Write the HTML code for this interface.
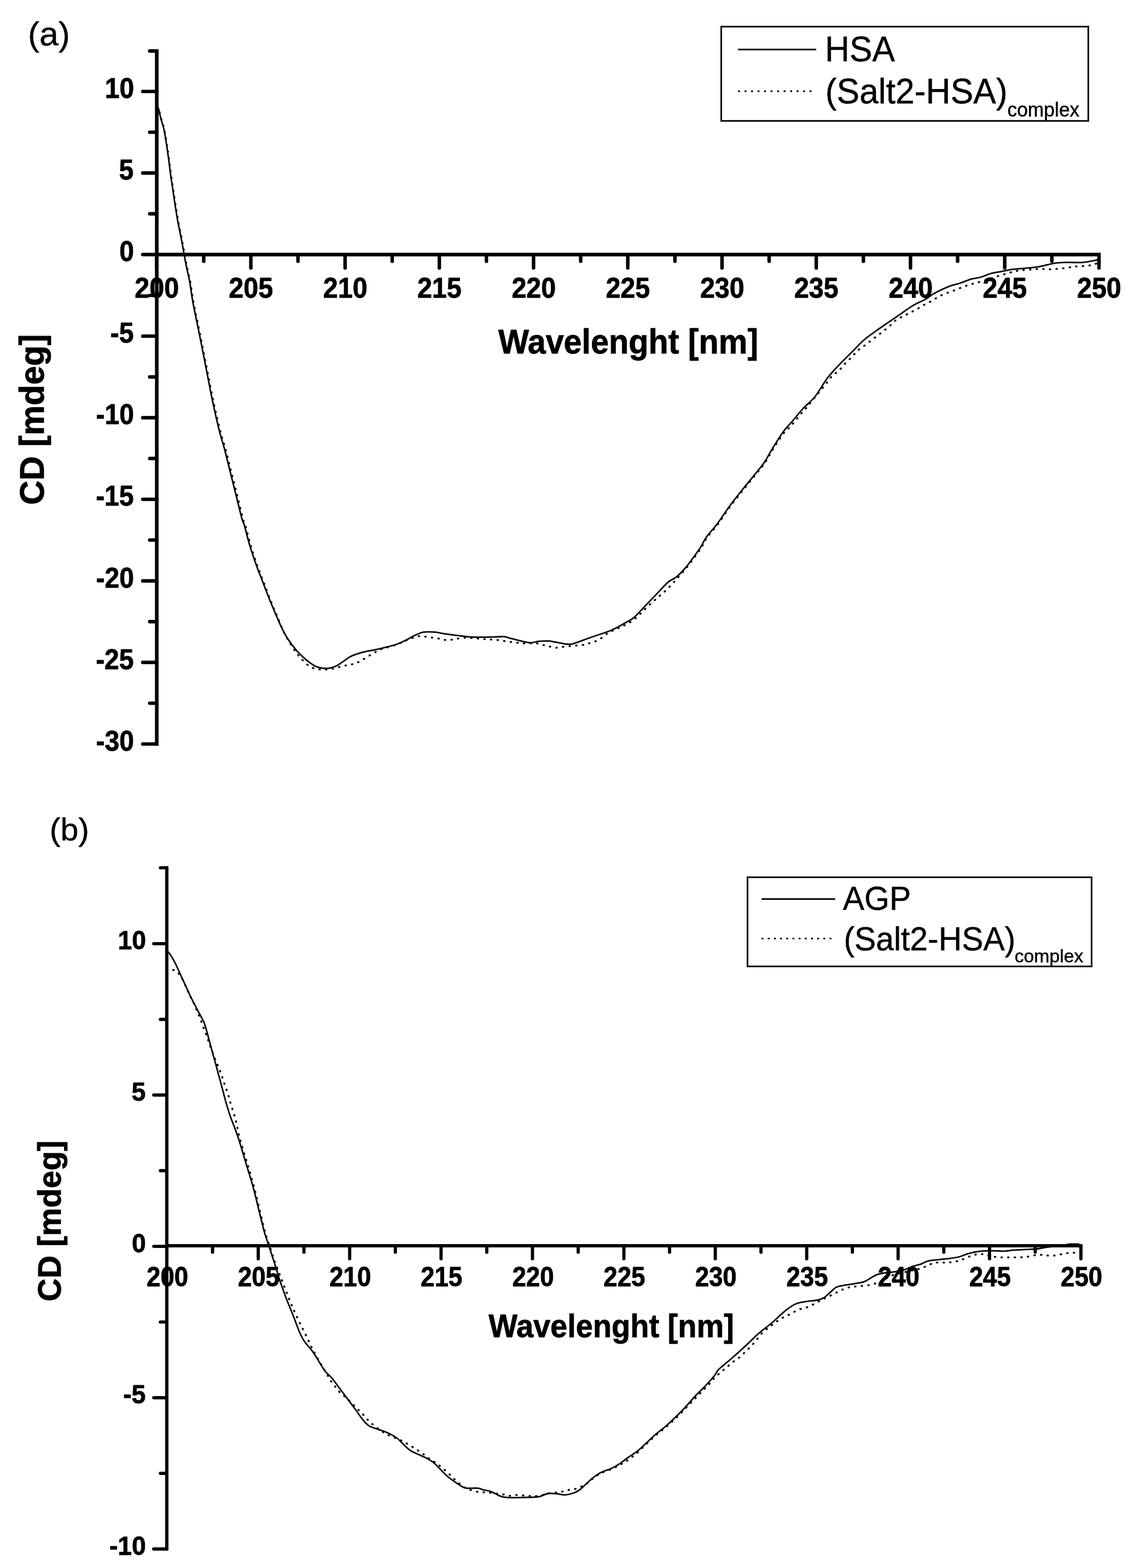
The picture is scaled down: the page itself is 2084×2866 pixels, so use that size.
<!DOCTYPE html>
<html lang="en">
<head>
<meta charset="utf-8">
<title>CD spectra</title>
<style>
html,body{margin:0;padding:0;background:#fff;}
body{width:2084px;height:2866px;overflow:hidden;}
svg{display:block;font-family:"Liberation Sans",sans-serif;}
</style>
</head>
<body>
<svg width="2084" height="2866" viewBox="0 0 2084 2866">
<rect width="2084" height="2866" fill="#fff"/>
<!-- panel a -->
<g fill="#000" stroke="#000">
<g stroke="none"><rect x="283.3" y="90" width="6.6" height="1273.2"/><rect x="283.3" y="461.9" width="1728.9" height="6.7"/></g>
<line x1="273.7" y1="93.3" x2="284.3" y2="93.3" stroke-width="6.4" stroke-linecap="round"/>
<line x1="261" y1="167.1" x2="284.3" y2="167.1" stroke-width="6.4" stroke-linecap="round"/>
<line x1="273.7" y1="241.65" x2="284.3" y2="241.65" stroke-width="6.4" stroke-linecap="round"/>
<line x1="261" y1="316.2" x2="284.3" y2="316.2" stroke-width="6.4" stroke-linecap="round"/>
<line x1="273.7" y1="390.75" x2="284.3" y2="390.75" stroke-width="6.4" stroke-linecap="round"/>
<line x1="261" y1="465.3" x2="284.3" y2="465.3" stroke-width="6.4" stroke-linecap="round"/>
<line x1="273.7" y1="539.85" x2="284.3" y2="539.85" stroke-width="6.4" stroke-linecap="round"/>
<line x1="261" y1="614.4" x2="284.3" y2="614.4" stroke-width="6.4" stroke-linecap="round"/>
<line x1="273.7" y1="688.95" x2="284.3" y2="688.95" stroke-width="6.4" stroke-linecap="round"/>
<line x1="261" y1="763.5" x2="284.3" y2="763.5" stroke-width="6.4" stroke-linecap="round"/>
<line x1="273.7" y1="838.05" x2="284.3" y2="838.05" stroke-width="6.4" stroke-linecap="round"/>
<line x1="261" y1="912.6" x2="284.3" y2="912.6" stroke-width="6.4" stroke-linecap="round"/>
<line x1="273.7" y1="987.15" x2="284.3" y2="987.15" stroke-width="6.4" stroke-linecap="round"/>
<line x1="261" y1="1061.7" x2="284.3" y2="1061.7" stroke-width="6.4" stroke-linecap="round"/>
<line x1="273.7" y1="1136.25" x2="284.3" y2="1136.25" stroke-width="6.4" stroke-linecap="round"/>
<line x1="261" y1="1210.8" x2="284.3" y2="1210.8" stroke-width="6.4" stroke-linecap="round"/>
<line x1="273.7" y1="1285.35" x2="284.3" y2="1285.35" stroke-width="6.4" stroke-linecap="round"/>
<line x1="261" y1="1359.9" x2="284.3" y2="1359.9" stroke-width="6.4" stroke-linecap="round"/>
<line x1="286.3" y1="467.6" x2="286.3" y2="489.7" stroke-width="6.4" stroke-linecap="round"/>
<line x1="372.44" y1="467.6" x2="372.44" y2="477.6" stroke-width="6.4" stroke-linecap="round"/>
<line x1="458.57" y1="467.6" x2="458.57" y2="489.7" stroke-width="6.4" stroke-linecap="round"/>
<line x1="544.71" y1="467.6" x2="544.71" y2="477.6" stroke-width="6.4" stroke-linecap="round"/>
<line x1="630.84" y1="467.6" x2="630.84" y2="489.7" stroke-width="6.4" stroke-linecap="round"/>
<line x1="716.98" y1="467.6" x2="716.98" y2="477.6" stroke-width="6.4" stroke-linecap="round"/>
<line x1="803.11" y1="467.6" x2="803.11" y2="489.7" stroke-width="6.4" stroke-linecap="round"/>
<line x1="889.25" y1="467.6" x2="889.25" y2="477.6" stroke-width="6.4" stroke-linecap="round"/>
<line x1="975.38" y1="467.6" x2="975.38" y2="489.7" stroke-width="6.4" stroke-linecap="round"/>
<line x1="1061.52" y1="467.6" x2="1061.52" y2="477.6" stroke-width="6.4" stroke-linecap="round"/>
<line x1="1147.65" y1="467.6" x2="1147.65" y2="489.7" stroke-width="6.4" stroke-linecap="round"/>
<line x1="1233.79" y1="467.6" x2="1233.79" y2="477.6" stroke-width="6.4" stroke-linecap="round"/>
<line x1="1319.92" y1="467.6" x2="1319.92" y2="489.7" stroke-width="6.4" stroke-linecap="round"/>
<line x1="1406.06" y1="467.6" x2="1406.06" y2="477.6" stroke-width="6.4" stroke-linecap="round"/>
<line x1="1492.19" y1="467.6" x2="1492.19" y2="489.7" stroke-width="6.4" stroke-linecap="round"/>
<line x1="1578.33" y1="467.6" x2="1578.33" y2="477.6" stroke-width="6.4" stroke-linecap="round"/>
<line x1="1664.46" y1="467.6" x2="1664.46" y2="489.7" stroke-width="6.4" stroke-linecap="round"/>
<line x1="1750.6" y1="467.6" x2="1750.6" y2="477.6" stroke-width="6.4" stroke-linecap="round"/>
<line x1="1836.73" y1="467.6" x2="1836.73" y2="489.7" stroke-width="6.4" stroke-linecap="round"/>
<line x1="1922.87" y1="467.6" x2="1922.87" y2="477.6" stroke-width="6.4" stroke-linecap="round"/>
<line x1="2009" y1="467.6" x2="2009" y2="489.7" stroke-width="6.4" stroke-linecap="round"/>
</g>
<g fill="#000" stroke="#000" stroke-linejoin="round">
<text transform="matrix(0.9311 0 0 1 191.69 178.93)" font-size="51.55" font-weight="bold" stroke-width="0.9">10</text>
<text transform="matrix(0.9311 0 0 1 217.61 328.03)" font-size="51.55" font-weight="bold" stroke-width="0.9">5</text>
<text transform="matrix(0.9311 0 0 1 218.33 477.13)" font-size="51.55" font-weight="bold" stroke-width="0.9">0</text>
<text transform="matrix(0.9311 0 0 1 201.77 626.23)" font-size="51.55" font-weight="bold" stroke-width="0.9">-5</text>
<text transform="matrix(0.9311 0 0 1 175.61 775.33)" font-size="51.55" font-weight="bold" stroke-width="0.9">-10</text>
<text transform="matrix(0.9311 0 0 1 175.13 924.43)" font-size="51.55" font-weight="bold" stroke-width="0.9">-15</text>
<text transform="matrix(0.9311 0 0 1 175.61 1073.53)" font-size="51.55" font-weight="bold" stroke-width="0.9">-20</text>
<text transform="matrix(0.9311 0 0 1 175.13 1222.63)" font-size="51.55" font-weight="bold" stroke-width="0.9">-25</text>
<text transform="matrix(0.9311 0 0 1 175.61 1371.73)" font-size="51.55" font-weight="bold" stroke-width="0.9">-30</text>
<text transform="matrix(0.9493 0 0 1 246.31 543.64)" font-size="50.99" font-weight="bold" stroke-width="0.9">200</text>
<text transform="matrix(0.9493 0 0 1 418.34 543.64)" font-size="50.99" font-weight="bold" stroke-width="0.9">205</text>
<text transform="matrix(0.9493 0 0 1 590.85 543.64)" font-size="50.99" font-weight="bold" stroke-width="0.9">210</text>
<text transform="matrix(0.9493 0 0 1 762.88 543.64)" font-size="50.99" font-weight="bold" stroke-width="0.9">215</text>
<text transform="matrix(0.9493 0 0 1 935.39 543.64)" font-size="50.99" font-weight="bold" stroke-width="0.9">220</text>
<text transform="matrix(0.9493 0 0 1 1107.41 543.64)" font-size="50.99" font-weight="bold" stroke-width="0.9">225</text>
<text transform="matrix(0.9493 0 0 1 1279.93 543.64)" font-size="50.99" font-weight="bold" stroke-width="0.9">230</text>
<text transform="matrix(0.9493 0 0 1 1451.95 543.64)" font-size="50.99" font-weight="bold" stroke-width="0.9">235</text>
<text transform="matrix(0.9493 0 0 1 1624.47 543.64)" font-size="50.99" font-weight="bold" stroke-width="0.9">240</text>
<text transform="matrix(0.9493 0 0 1 1796.49 543.64)" font-size="50.99" font-weight="bold" stroke-width="0.9">245</text>
<text transform="matrix(0.9493 0 0 1 1969.01 543.64)" font-size="50.99" font-weight="bold" stroke-width="0.9">250</text>
<text transform="matrix(0.9410 0 0 1 910.95 645.6)" font-size="63" font-weight="bold" stroke-width="0.9">Wavelenght [nm]</text>
<text transform="matrix(0 -0.98 1 0 80.2 922.73)" font-size="63" font-weight="bold" stroke-width="0.9">CD [mdeg]</text>
<text transform="matrix(1.0268 0 0 1 51.08 83.4)" font-size="61.18" stroke-width="0.5">(a)</text>
</g>
<rect x="1318.5" y="48.7" width="671" height="172.3" fill="#fff" stroke="#000" stroke-width="3"/>
<g stroke="#000"><line x1="1349.2" y1="90.5" x2="1492.1" y2="90.5" stroke-width="3" stroke-linecap="butt"/><line x1="1349.2" y1="166.8" x2="1486" y2="166.8" stroke-width="3" stroke-dasharray="3.5 8.4"/></g>
<g fill="#000" stroke="#000" stroke-linejoin="round">
<text transform="matrix(0.9497 0 0 1 1507.96 112.49)" font-size="65.63" stroke-width="0.5">HSA</text>
<text transform="matrix(0.9756 0 0 1 1508.7 188.8)" font-size="64" stroke-width="0.5">(Salt2-HSA)</text>
<text transform="matrix(0.9703 0 0 1 1841.46 212.8)" font-size="36.5" stroke-width="0.5">complex</text>
</g>
<path d="M286.8 195C287.38 195.75 289.13 196.3 290.3 199.5C291.47 202.7 292.18 208.15 293.8 214.2C295.42 220.25 298.3 228.6 300 235.8C301.7 243 302.57 248.65 304 257.4C305.43 266.15 307.17 278.02 308.6 288.3C310.03 298.58 311.17 308.82 312.6 319.1C314.03 329.38 315.65 339.7 317.2 350C318.75 360.3 320.33 371.12 321.9 380.9C323.47 390.68 325.18 400.98 326.6 408.7C328.02 416.42 329.12 420.78 330.4 427.2C331.68 433.62 333.2 441.28 334.3 447.2C335.4 453.12 335.98 457.03 337 462.7C338.02 468.37 339.17 475.03 340.4 481.2C341.63 487.37 343.07 493.53 344.4 499.7C345.73 505.87 346.77 508.98 348.4 518.2C350.03 527.42 351.23 539.15 354.2 555C357.17 570.85 362.2 593.5 366.2 613.3C370.2 633.1 374.2 653.63 378.2 673.8C382.2 693.97 386.02 714.85 390.2 734.3C394.38 753.75 399.63 776.08 403.3 790.5C406.97 804.92 408.9 808.55 412.2 820.8C415.5 833.05 419.47 849.6 423.1 864C426.73 878.4 430.38 892.8 434 907.2C437.62 921.6 442.33 941.43 444.8 950.4C447.27 959.37 446.53 953.17 448.8 961C451.07 968.83 454.82 985.27 458.4 997.4C461.98 1009.53 466.3 1022.48 470.3 1033.8C474.3 1045.12 478.38 1054.8 482.4 1065.3C486.42 1075.8 490.4 1086.7 494.4 1096.8C498.4 1106.9 502.47 1116.45 506.4 1125.9C510.33 1135.35 514.48 1145.98 518 1153.5C521.52 1161.02 523.67 1164.58 527.5 1171C531.33 1177.42 536.68 1186.02 541 1192C545.32 1197.98 549.32 1202.63 553.4 1206.9C557.48 1211.17 561.45 1215 565.5 1217.6C569.55 1220.2 573.65 1221.48 577.7 1222.5C581.75 1223.52 585.77 1223.58 589.8 1223.7C593.83 1223.82 597.85 1223.68 601.9 1223.2C605.95 1222.72 610.05 1221.73 614.1 1220.8C618.15 1219.87 622.17 1218.53 626.2 1217.6C630.23 1216.67 634.47 1216 638.3 1215.2C642.13 1214.4 645.57 1214.1 649.2 1212.8C652.83 1211.5 656.25 1209.52 660.1 1207.4C663.95 1205.28 668.25 1202.52 672.3 1200.1C676.35 1197.68 680.37 1195.12 684.4 1192.9C688.43 1190.68 690.03 1189.15 696.5 1186.8C702.97 1184.45 715.52 1181.5 723.2 1178.8C730.88 1176.1 737.35 1172.78 742.6 1170.6C747.85 1168.42 750.65 1167 754.7 1165.7C758.75 1164.4 762.85 1163.12 766.9 1162.8C770.95 1162.48 774.97 1163.35 779 1163.8C783.03 1164.25 787.05 1164.9 791.1 1165.5C795.15 1166.1 799.38 1166.68 803.3 1167.4C807.22 1168.12 810.7 1169.52 814.6 1169.8C818.5 1170.08 822.67 1169.58 826.7 1169.1C830.73 1168.62 834.77 1167.47 838.8 1166.9C842.83 1166.33 846.85 1165.82 850.9 1165.7C854.95 1165.58 857.43 1165.8 863.1 1166.2C868.77 1166.6 877.22 1167.5 884.9 1168.1C892.58 1168.7 901.12 1168.92 909.2 1169.8C917.28 1170.68 925.32 1172.38 933.4 1173.4C941.48 1174.42 949.82 1175.48 957.7 1175.9C965.58 1176.32 974.85 1175.38 980.7 1175.9C986.55 1176.42 988.95 1178.08 992.8 1179C996.65 1179.92 999.95 1180.58 1003.8 1181.4C1007.65 1182.22 1011.87 1183.73 1015.9 1183.9C1019.93 1184.07 1023.97 1182.85 1028 1182.4C1032.03 1181.95 1036.05 1181.6 1040.1 1181.2C1044.15 1180.8 1048.25 1180.37 1052.3 1180C1056.35 1179.63 1060.57 1179.62 1064.4 1179C1068.23 1178.38 1071.47 1177.35 1075.3 1176.3C1079.13 1175.25 1083.35 1174.38 1087.4 1172.7C1091.45 1171.02 1095.75 1168.7 1099.6 1166.2C1103.45 1163.7 1106.67 1160.13 1110.5 1157.7C1114.33 1155.27 1118.57 1153.5 1122.6 1151.6C1126.63 1149.7 1130.65 1148.2 1134.7 1146.3C1138.75 1144.4 1142.85 1142.55 1146.9 1140.2C1150.95 1137.85 1155.17 1135.15 1159 1132.2C1162.83 1129.25 1166.07 1126.13 1169.9 1122.5C1173.73 1118.87 1177.75 1114.45 1182 1110.4C1186.25 1106.35 1191.4 1101.77 1195.4 1098.2C1199.4 1094.63 1202.28 1092.23 1206 1089C1209.72 1085.77 1213.75 1082.57 1217.7 1078.8C1221.65 1075.03 1226.12 1070.23 1229.7 1066.4C1233.28 1062.57 1235.23 1060.28 1239.2 1055.8C1243.17 1051.32 1248.78 1045.23 1253.5 1039.5C1258.22 1033.77 1262.85 1027.68 1267.5 1021.4C1272.15 1015.12 1277.22 1008.32 1281.4 1001.8C1285.58 995.28 1287.48 989.5 1292.6 982.3C1297.72 975.1 1305.13 967.9 1312.1 958.6C1319.07 949.3 1326.5 937.2 1334.4 926.5C1342.3 915.8 1351.13 904.87 1359.5 894.4C1367.87 883.93 1378.08 871.83 1384.6 863.7C1391.12 855.57 1393.95 852.57 1398.6 845.6C1403.25 838.63 1406.85 830.83 1412.5 821.9C1418.15 812.97 1427.33 798.82 1432.5 792C1437.67 785.18 1440.15 784.57 1443.5 781C1446.85 777.43 1449.37 774.43 1452.6 770.6C1455.83 766.77 1459.52 761.95 1462.9 758C1466.28 754.05 1469.52 750.85 1472.9 746.9C1476.28 742.95 1476.68 742.3 1483.2 734.3C1489.72 726.3 1505.62 706.8 1512 698.9C1518.38 691 1517.78 690.62 1521.5 686.9C1525.22 683.18 1530.32 680.42 1534.3 676.6C1538.28 672.78 1541.58 668 1545.4 664C1549.22 660 1553.47 656.47 1557.2 652.6C1560.93 648.73 1564 644.25 1567.8 640.8C1571.6 637.35 1575.97 634.92 1580 631.9C1584.03 628.88 1588 625.77 1592 622.7C1596 619.63 1600.05 616.52 1604 613.5C1607.95 610.48 1611.78 607.72 1615.7 604.6C1619.62 601.48 1623.68 598.15 1627.5 594.8C1631.32 591.45 1634.65 587.28 1638.6 584.5C1642.55 581.72 1647.1 580.23 1651.2 578.1C1655.3 575.97 1659.12 573.8 1663.2 571.7C1667.28 569.6 1671.62 567.78 1675.7 565.5C1679.78 563.22 1683.75 560.23 1687.7 558C1691.65 555.77 1695.58 554.2 1699.4 552.1C1703.22 550 1706.78 547.58 1710.6 545.4C1714.42 543.22 1718.35 540.85 1722.3 539C1726.25 537.15 1730.2 535.83 1734.3 534.3C1738.4 532.77 1742.85 531.33 1746.9 529.8C1750.95 528.27 1754.65 526.58 1758.6 525.1C1762.55 523.62 1766.6 522.17 1770.6 520.9C1774.6 519.63 1778.65 518.58 1782.6 517.5C1786.55 516.42 1786.48 516.8 1794.3 514.4C1802.12 512 1821.6 505.58 1829.5 503.1C1837.4 500.62 1837.65 500.63 1841.7 499.5C1845.75 498.37 1849.97 497.2 1853.8 496.3C1857.63 495.4 1860.87 494.58 1864.7 494.1C1868.53 493.62 1872.75 493.72 1876.8 493.4C1880.85 493.08 1885.15 492.48 1889 492.2C1892.85 491.92 1896.07 491.78 1899.9 491.7C1903.73 491.62 1907.97 491.62 1912 491.7C1916.03 491.78 1920.05 492.32 1924.1 492.2C1928.15 492.08 1932.25 491.4 1936.3 491C1940.35 490.6 1944.37 490.33 1948.4 489.8C1952.43 489.27 1956.67 488.3 1960.5 487.8C1964.33 487.3 1967.55 487.08 1971.4 486.8C1975.25 486.52 1979.55 486.5 1983.6 486.1C1987.65 485.7 1992.07 485.2 1995.7 484.4C1999.33 483.6 2003.78 481.82 2005.4 481.3" fill="none" stroke="#000" stroke-width="3.5" stroke-linejoin="round" stroke-linecap="round" stroke-dasharray="1 11.1"/>
<path d="M286.8 194.5C287.3 195.17 288.75 195.38 289.8 198.5C290.85 201.62 291.52 207.15 293.1 213.2C294.68 219.25 297.62 227.6 299.3 234.8C300.98 242 301.78 247.65 303.2 256.4C304.62 265.15 306.38 277.02 307.8 287.3C309.22 297.58 310.28 307.82 311.7 318.1C313.12 328.38 314.77 338.7 316.3 349C317.83 359.3 319.35 370.12 320.9 379.9C322.45 389.68 324.18 399.98 325.6 407.7C327.02 415.42 328.12 419.78 329.4 426.2C330.68 432.62 332.2 440.28 333.3 446.2C334.4 452.12 334.98 456.03 336 461.7C337.02 467.37 338.18 474.03 339.4 480.2C340.62 486.37 342 492.53 343.3 498.7C344.6 504.87 345.6 507.98 347.2 517.2C348.8 526.42 349.97 538.15 352.9 554C355.83 569.85 360.83 592.5 364.8 612.3C368.77 632.1 372.73 652.63 376.7 672.8C380.67 692.97 384.47 713.85 388.6 733.3C392.73 752.75 397.9 775.08 401.5 789.5C405.1 803.92 406.95 807.55 410.2 819.8C413.45 832.05 417.4 848.6 421 863C424.6 877.4 428.2 891.8 431.8 906.2C435.4 920.6 440.12 940.43 442.6 949.4C445.08 958.37 444.4 952.17 446.7 960C449 967.83 452.77 984.27 456.4 996.4C460.03 1008.53 464.47 1021.48 468.5 1032.8C472.53 1044.12 476.55 1053.8 480.6 1064.3C484.65 1074.8 488.75 1085.7 492.8 1095.8C496.85 1105.9 500.87 1115.6 504.9 1124.9C508.93 1134.2 513.37 1144.32 517 1151.6C520.63 1158.88 522.65 1162.53 526.7 1168.6C530.75 1174.67 536.45 1182.33 541.3 1188C546.15 1193.67 551.35 1198.55 555.8 1202.6C560.25 1206.65 564.35 1209.68 568 1212.3C571.65 1214.92 574.07 1216.8 577.7 1218.3C581.33 1219.8 585.77 1220.8 589.8 1221.3C593.83 1221.8 597.85 1221.92 601.9 1221.3C605.95 1220.68 610.05 1219.5 614.1 1217.6C618.15 1215.7 621.77 1212.82 626.2 1209.9C630.63 1206.98 636.25 1202.53 640.7 1200.1C645.15 1197.67 648.85 1196.7 652.9 1195.3C656.95 1193.9 659.35 1193.03 665 1191.7C670.65 1190.37 679.93 1188.8 686.8 1187.3C693.67 1185.8 700.13 1184.2 706.2 1182.7C712.27 1181.2 717.53 1180.25 723.2 1178.3C728.87 1176.35 734.13 1173.92 740.2 1171C746.27 1168.08 753.93 1163.42 759.6 1160.8C765.27 1158.18 768.13 1156.22 774.2 1155.3C780.27 1154.38 790.35 1154.9 796 1155.3C801.65 1155.7 802.58 1156.82 808.1 1157.7C813.62 1158.58 819.93 1159.47 829.1 1160.6C838.27 1161.73 850.57 1163.9 863.1 1164.5C875.63 1165.1 894.6 1164.33 904.3 1164.2C914 1164.07 916.05 1163.17 921.3 1163.7C926.55 1164.23 928.12 1165.57 935.8 1167.4C943.48 1169.23 959.3 1173.9 967.4 1174.7C975.5 1175.5 978.33 1172.7 984.4 1172.2C990.47 1171.7 998.15 1171.37 1003.8 1171.7C1009.45 1172.03 1012.25 1173.22 1018.3 1174.2C1024.35 1175.18 1034.43 1177.45 1040.1 1177.6C1045.77 1177.75 1045.42 1177.28 1052.3 1175.1C1059.18 1172.92 1071.7 1167.88 1081.4 1164.5C1091.1 1161.12 1103.23 1157.47 1110.5 1154.8C1117.77 1152.13 1118.93 1151.58 1125 1148.5C1131.07 1145.42 1141.23 1139.62 1146.9 1136.3C1152.57 1132.98 1153.75 1133.2 1159 1128.6C1164.25 1124 1171.57 1115.78 1178.4 1108.7C1185.23 1101.62 1192.77 1093.62 1200 1086.1C1207.23 1078.58 1215.83 1068.75 1221.8 1063.6C1227.77 1058.45 1230.68 1059.38 1235.8 1055.2C1240.92 1051.02 1247.38 1044.3 1252.5 1038.5C1257.62 1032.7 1261.85 1026.68 1266.5 1020.4C1271.15 1014.12 1276.22 1007.32 1280.4 1000.8C1284.58 994.28 1286.48 988.5 1291.6 981.3C1296.72 974.1 1304.13 966.9 1311.1 957.6C1318.07 948.3 1325.5 936.2 1333.4 925.5C1341.3 914.8 1350.13 903.87 1358.5 893.4C1366.87 882.93 1377.08 870.83 1383.6 862.7C1390.12 854.57 1392.95 851.57 1397.6 844.6C1402.25 837.63 1405.92 829.97 1411.5 820.9C1417.08 811.83 1425.05 798.57 1431.1 790.2C1437.15 781.83 1441.67 777.92 1447.8 770.7C1453.93 763.48 1460.83 754.6 1467.9 746.9C1474.97 739.2 1482.77 733.8 1490.2 724.5C1497.63 715.2 1505.07 700.85 1512.5 691.1C1519.93 681.35 1527.35 673.92 1534.8 666C1542.25 658.08 1549.75 651.05 1557.2 643.6C1564.65 636.15 1572.07 627.8 1579.5 621.3C1586.93 614.8 1594.37 609.95 1601.8 604.6C1609.23 599.25 1616.67 594.32 1624.1 589.2C1631.53 584.08 1638.97 579 1646.4 573.9C1653.83 568.8 1661.25 563.02 1668.7 558.6C1676.15 554.18 1684.58 551.13 1691.1 547.4C1697.62 543.67 1700.37 540.25 1707.8 536.2C1715.23 532.15 1727.8 526.22 1735.7 523.1C1743.6 519.98 1748.7 519.63 1755.2 517.5C1761.7 515.37 1768.65 512.05 1774.7 510.3C1780.75 508.55 1785.45 508.72 1791.5 507C1797.55 505.28 1804.5 501.78 1811 500C1817.5 498.22 1823.98 497.57 1830.5 496.3C1837.02 495.03 1842.65 493.42 1850.1 492.4C1857.55 491.38 1866.88 491.03 1875.2 490.2C1883.52 489.37 1891.43 488.88 1900 487.4C1908.57 485.92 1918.13 482.6 1926.6 481.3C1935.07 480 1941.92 479.88 1950.8 479.6C1959.68 479.32 1970.28 480.45 1979.9 479.6C1989.52 478.75 2003.73 475.35 2008.5 474.5" fill="none" stroke="#000" stroke-width="2.8" stroke-linejoin="round" stroke-linecap="butt"/>
<!-- panel b -->
<g fill="#000" stroke="#000">
<g stroke="none"><rect x="301.9" y="1583.1" width="6" height="1251.2"/><rect x="301.9" y="2274" width="1677.05" height="6"/></g>
<line x1="293.25" y1="1586.1" x2="302.9" y2="1586.1" stroke-width="5.9" stroke-linecap="round"/>
<line x1="281.05" y1="1724.9" x2="302.9" y2="1724.9" stroke-width="5.9" stroke-linecap="round"/>
<line x1="293.25" y1="1863.2" x2="302.9" y2="1863.2" stroke-width="5.9" stroke-linecap="round"/>
<line x1="281.05" y1="2001.5" x2="302.9" y2="2001.5" stroke-width="5.9" stroke-linecap="round"/>
<line x1="293.25" y1="2139.8" x2="302.9" y2="2139.8" stroke-width="5.9" stroke-linecap="round"/>
<line x1="281.05" y1="2278.1" x2="302.9" y2="2278.1" stroke-width="5.9" stroke-linecap="round"/>
<line x1="293.25" y1="2416.4" x2="302.9" y2="2416.4" stroke-width="5.9" stroke-linecap="round"/>
<line x1="281.05" y1="2554.7" x2="302.9" y2="2554.7" stroke-width="5.9" stroke-linecap="round"/>
<line x1="293.25" y1="2693" x2="302.9" y2="2693" stroke-width="5.9" stroke-linecap="round"/>
<line x1="281.05" y1="2831.3" x2="302.9" y2="2831.3" stroke-width="5.9" stroke-linecap="round"/>
<line x1="305" y1="2279" x2="305" y2="2300.85" stroke-width="5.9" stroke-linecap="round"/>
<line x1="388.55" y1="2279" x2="388.55" y2="2288.75" stroke-width="5.9" stroke-linecap="round"/>
<line x1="472.1" y1="2279" x2="472.1" y2="2300.85" stroke-width="5.9" stroke-linecap="round"/>
<line x1="555.65" y1="2279" x2="555.65" y2="2288.75" stroke-width="5.9" stroke-linecap="round"/>
<line x1="639.2" y1="2279" x2="639.2" y2="2300.85" stroke-width="5.9" stroke-linecap="round"/>
<line x1="722.75" y1="2279" x2="722.75" y2="2288.75" stroke-width="5.9" stroke-linecap="round"/>
<line x1="806.3" y1="2279" x2="806.3" y2="2300.85" stroke-width="5.9" stroke-linecap="round"/>
<line x1="889.85" y1="2279" x2="889.85" y2="2288.75" stroke-width="5.9" stroke-linecap="round"/>
<line x1="973.4" y1="2279" x2="973.4" y2="2300.85" stroke-width="5.9" stroke-linecap="round"/>
<line x1="1056.95" y1="2279" x2="1056.95" y2="2288.75" stroke-width="5.9" stroke-linecap="round"/>
<line x1="1140.5" y1="2279" x2="1140.5" y2="2300.85" stroke-width="5.9" stroke-linecap="round"/>
<line x1="1224.05" y1="2279" x2="1224.05" y2="2288.75" stroke-width="5.9" stroke-linecap="round"/>
<line x1="1307.6" y1="2279" x2="1307.6" y2="2300.85" stroke-width="5.9" stroke-linecap="round"/>
<line x1="1391.15" y1="2279" x2="1391.15" y2="2288.75" stroke-width="5.9" stroke-linecap="round"/>
<line x1="1474.7" y1="2279" x2="1474.7" y2="2300.85" stroke-width="5.9" stroke-linecap="round"/>
<line x1="1558.25" y1="2279" x2="1558.25" y2="2288.75" stroke-width="5.9" stroke-linecap="round"/>
<line x1="1641.8" y1="2279" x2="1641.8" y2="2300.85" stroke-width="5.9" stroke-linecap="round"/>
<line x1="1725.35" y1="2279" x2="1725.35" y2="2288.75" stroke-width="5.9" stroke-linecap="round"/>
<line x1="1808.9" y1="2279" x2="1808.9" y2="2300.85" stroke-width="5.9" stroke-linecap="round"/>
<line x1="1892.45" y1="2279" x2="1892.45" y2="2288.75" stroke-width="5.9" stroke-linecap="round"/>
<line x1="1976" y1="2279" x2="1976" y2="2300.85" stroke-width="5.9" stroke-linecap="round"/>
</g>
<g fill="#000" stroke="#000" stroke-linejoin="round">
<text transform="matrix(0.9640 0 0 1 215.41 1735.47)" font-size="48.03" font-weight="bold" stroke-width="0.9">10</text>
<text transform="matrix(0.9640 0 0 1 240.41 2012.07)" font-size="48.03" font-weight="bold" stroke-width="0.9">5</text>
<text transform="matrix(0.9640 0 0 1 241.11 2288.67)" font-size="48.03" font-weight="bold" stroke-width="0.9">0</text>
<text transform="matrix(0.9640 0 0 1 225.13 2565.27)" font-size="48.03" font-weight="bold" stroke-width="0.9">-5</text>
<text transform="matrix(0.9640 0 0 1 199.9 2841.87)" font-size="48.03" font-weight="bold" stroke-width="0.9">-10</text>
<text transform="matrix(0.9172 0 0 1 268.04 2350.85)" font-size="49.72" font-weight="bold" stroke-width="0.9">200</text>
<text transform="matrix(0.9172 0 0 1 434.91 2350.85)" font-size="49.72" font-weight="bold" stroke-width="0.9">205</text>
<text transform="matrix(0.9172 0 0 1 602.24 2350.85)" font-size="49.72" font-weight="bold" stroke-width="0.9">210</text>
<text transform="matrix(0.9172 0 0 1 769.11 2350.85)" font-size="49.72" font-weight="bold" stroke-width="0.9">215</text>
<text transform="matrix(0.9172 0 0 1 936.44 2350.85)" font-size="49.72" font-weight="bold" stroke-width="0.9">220</text>
<text transform="matrix(0.9172 0 0 1 1103.31 2350.85)" font-size="49.72" font-weight="bold" stroke-width="0.9">225</text>
<text transform="matrix(0.9172 0 0 1 1270.64 2350.85)" font-size="49.72" font-weight="bold" stroke-width="0.9">230</text>
<text transform="matrix(0.9172 0 0 1 1437.51 2350.85)" font-size="49.72" font-weight="bold" stroke-width="0.9">235</text>
<text transform="matrix(0.9172 0 0 1 1604.84 2350.85)" font-size="49.72" font-weight="bold" stroke-width="0.9">240</text>
<text transform="matrix(0.9172 0 0 1 1771.71 2350.85)" font-size="49.72" font-weight="bold" stroke-width="0.9">245</text>
<text transform="matrix(0.9172 0 0 1 1939.04 2350.85)" font-size="49.72" font-weight="bold" stroke-width="0.9">250</text>
<text transform="matrix(0.9328 0 0 1 893.15 2444.2)" font-size="60" font-weight="bold" stroke-width="0.9">Wavelenght [nm]</text>
<text transform="matrix(0 -0.97 1 0 111.1 2378.78)" font-size="60" font-weight="bold" stroke-width="0.9">CD [mdeg]</text>
<text transform="matrix(1.0366 0 0 1 90.8 1535.58)" font-size="57.01" stroke-width="0.5">(b)</text>
</g>
<rect x="1366.5" y="1603.5" width="629" height="162.9" fill="#fff" stroke="#000" stroke-width="3"/>
<g stroke="#000"><line x1="1392.2" y1="1643.3" x2="1526.8" y2="1643.3" stroke-width="3" stroke-linecap="butt"/><line x1="1392.2" y1="1715.5" x2="1521" y2="1715.5" stroke-width="3" stroke-dasharray="3.4 7.9"/></g>
<g fill="#000" stroke="#000" stroke-linejoin="round">
<text transform="matrix(0.9590 0 0 1 1540.75 1663.13)" font-size="61.55" stroke-width="0.5">AGP</text>
<text transform="matrix(0.9727 0 0 1 1542.42 1736.9)" font-size="60.5" stroke-width="0.5">(Salt2-HSA)</text>
<text transform="matrix(0.9927 0 0 1 1854.73 1758.7)" font-size="34" stroke-width="0.5">complex</text>
</g>
<path d="M304.9 1770C305.63 1770.1 306.68 1769.8 309.3 1770.6C311.92 1771.4 317.13 1772.57 320.6 1774.8C324.07 1777.03 326.93 1779.3 330.1 1784C333.27 1788.7 336.73 1797 339.6 1803C342.47 1809 344.73 1814.58 347.3 1820C349.87 1825.42 352.58 1830.18 355 1835.5C357.42 1840.82 359.95 1847.48 361.8 1851.9C363.65 1856.32 364.7 1858.4 366.1 1862C367.5 1865.6 368.78 1869.65 370.2 1873.5C371.62 1877.35 373.18 1881.37 374.6 1885.1C376.02 1888.83 377.37 1892.17 378.7 1895.9C380.03 1899.63 381.3 1903.77 382.6 1907.5C383.9 1911.23 384.32 1912.63 386.5 1918.3C388.68 1923.97 393.4 1935.83 395.7 1941.5C398 1947.17 398.83 1948.63 400.3 1952.3C401.77 1955.97 403.2 1959.78 404.5 1963.5C405.8 1967.22 406.87 1970.9 408.1 1974.6C409.33 1978.3 410.57 1981.92 411.9 1985.7C413.23 1989.48 414.87 1993.53 416.1 1997.3C417.33 2001.07 418.27 2004.62 419.3 2008.3C420.33 2011.98 421.22 2015.75 422.3 2019.4C423.38 2023.05 424.62 2026.47 425.8 2030.2C426.98 2033.93 428.37 2038.07 429.4 2041.8C430.43 2045.53 431.13 2048.88 432 2052.6C432.87 2056.32 433.43 2059 434.6 2064.1C435.77 2069.2 436.1 2072.82 439 2083.2C441.9 2093.58 447.75 2112 452 2126.4C456.25 2140.8 460.67 2155.2 464.5 2169.6C468.33 2184 471.67 2199.12 475 2212.8C478.33 2226.48 481.5 2240.88 484.5 2251.7C487.5 2262.52 489.92 2268.33 493 2277.7C496.08 2287.07 499.05 2296.93 503 2307.9C506.95 2318.87 512.27 2331.98 516.7 2343.5C521.13 2355.02 525.82 2367.63 529.6 2377C533.38 2386.37 535.97 2392.13 539.4 2399.7C542.83 2407.27 546.6 2415.02 550.2 2422.4C553.8 2429.78 558.3 2438.42 561 2444C563.7 2449.58 564.6 2452.12 566.4 2455.9C568.2 2459.68 568.87 2461.18 571.8 2466.7C574.73 2472.22 579.72 2481.53 584 2489C588.28 2496.47 594.12 2505.8 597.5 2511.5C600.88 2517.2 601.83 2519.47 604.3 2523.2C606.77 2526.93 609.48 2530.27 612.3 2533.9C615.12 2537.53 617.88 2541.65 621.2 2545C624.52 2548.35 628.55 2550.68 632.2 2554C635.85 2557.32 639.47 2561.27 643.1 2564.9C646.73 2568.53 650.45 2572.25 654 2575.8C657.55 2579.35 660.97 2582.57 664.4 2586.2C667.83 2589.83 671.08 2594.15 674.6 2597.6C678.12 2601.05 681.73 2603.93 685.5 2606.9C689.27 2609.87 693.35 2612.78 697.2 2615.4C701.05 2618.02 703.07 2619.9 708.6 2622.6C714.13 2625.3 724.95 2629.17 730.4 2631.6C735.85 2634.03 737.58 2635.13 741.3 2637.2C745.02 2639.27 748.93 2641.7 752.7 2644C756.47 2646.3 760.13 2648.53 763.9 2651C767.67 2653.47 771.58 2656.08 775.3 2658.8C779.02 2661.52 782.57 2664.75 786.2 2667.3C789.83 2669.85 793.47 2671.57 797.1 2674.1C800.73 2676.63 804.23 2679.35 808 2682.5C811.77 2685.65 815.93 2689.48 819.7 2693C823.47 2696.52 826.97 2700.28 830.6 2703.6C834.23 2706.92 837.78 2710.02 841.5 2712.9C845.22 2715.78 849.1 2718.97 852.9 2720.9C856.7 2722.83 860.47 2723.42 864.3 2724.5C868.13 2725.58 872.13 2726.83 875.9 2727.4C879.67 2727.97 883.25 2727.7 886.9 2727.9C890.55 2728.1 894.05 2728.2 897.8 2728.6C901.55 2729 905.57 2729.77 909.4 2730.3C913.23 2730.83 917.08 2731.18 920.8 2731.8C924.52 2732.42 928.07 2733.83 931.7 2734C935.33 2734.17 938.83 2732.93 942.6 2732.8C946.37 2732.67 950.45 2733 954.3 2733.2C958.15 2733.4 961.98 2733.75 965.7 2734C969.42 2734.25 972.55 2734.87 976.6 2734.7C980.65 2734.53 985.6 2733.87 990 2733C994.4 2732.13 997.9 2730.42 1003 2729.5C1008.1 2728.58 1015.77 2728.15 1020.6 2727.5C1025.43 2726.85 1028.15 2726.45 1032 2725.6C1035.85 2724.75 1039.82 2723.22 1043.7 2722.4C1047.58 2721.58 1051.75 2721.77 1055.3 2720.7C1058.85 2719.63 1062.05 2717.53 1065 2716C1067.95 2714.47 1069.75 2713.83 1073 2711.5C1076.25 2709.17 1080.17 2705.17 1084.5 2702C1088.83 2698.83 1093.33 2695.33 1099 2692.5C1104.67 2689.67 1112.83 2687.5 1118.5 2685C1124.17 2682.5 1128.82 2679.72 1133 2677.5C1137.18 2675.28 1139.97 2674 1143.6 2671.7C1147.23 2669.4 1151.12 2666.52 1154.8 2663.7C1158.48 2660.88 1161.25 2658.83 1165.7 2654.8C1170.15 2650.77 1176.03 2644.68 1181.5 2639.5C1186.97 2634.32 1192.42 2628.95 1198.5 2623.7C1204.58 2618.45 1211.92 2613.2 1218 2608C1224.08 2602.8 1229.33 2597.92 1235 2592.5C1240.67 2587.08 1247.1 2580.48 1252 2575.5C1256.9 2570.52 1260.5 2566.62 1264.4 2562.6C1268.3 2558.58 1271.75 2555.17 1275.4 2551.4C1279.05 2547.63 1282.75 2543.63 1286.3 2540C1289.85 2536.37 1293.25 2533.33 1296.7 2529.6C1300.15 2525.87 1303.35 2521.3 1307 2517.6C1310.65 2513.9 1314.85 2510.63 1318.6 2507.4C1322.35 2504.17 1325.78 2501.32 1329.5 2498.2C1333.22 2495.08 1337.1 2491.62 1340.9 2488.7C1344.7 2485.78 1348.53 2483.85 1352.3 2480.7C1356.07 2477.55 1359.85 2473.35 1363.5 2469.8C1367.15 2466.25 1370.8 2463.03 1374.2 2459.4C1377.6 2455.77 1380.63 2451.92 1383.9 2448C1387.17 2444.08 1390.13 2439.53 1393.8 2435.9C1397.47 2432.27 1402.18 2429.15 1405.9 2426.2C1409.62 2423.25 1412.57 2420.83 1416.1 2418.2C1419.63 2415.57 1423.37 2412.58 1427.1 2410.4C1430.83 2408.22 1434.67 2407.03 1438.5 2405.1C1442.33 2403.17 1446.35 2400.75 1450.1 2398.8C1453.85 2396.85 1457.28 2394.78 1461 2393.4C1464.72 2392.02 1468.68 2391.72 1472.4 2390.5C1476.12 2389.28 1479.53 2387.92 1483.3 2386.1C1487.07 2384.28 1491.23 2381.62 1495 2379.6C1498.77 2377.58 1502.27 2375.82 1505.9 2374C1509.53 2372.18 1513.08 2370.52 1516.8 2368.7C1520.52 2366.88 1524.43 2364.97 1528.2 2363.1C1531.97 2361.23 1535.63 2359.12 1539.4 2357.5C1543.17 2355.88 1547.08 2354.37 1550.8 2353.4C1554.52 2352.43 1558.07 2352.18 1561.7 2351.7C1565.33 2351.22 1568.85 2350.82 1572.6 2350.5C1576.35 2350.18 1580.37 2350.42 1584.2 2349.8C1588.03 2349.18 1591.87 2347.7 1595.6 2346.8C1599.33 2345.9 1602.87 2345.87 1606.6 2344.4C1610.33 2342.93 1614.17 2340.13 1618 2338C1621.83 2335.87 1625.1 2333.43 1629.6 2331.6C1634.1 2329.77 1639.93 2328.27 1645 2327C1650.07 2325.73 1655.5 2325 1660 2324C1664.5 2323 1668 2321.93 1672 2321C1676 2320.07 1679.98 2319.77 1684 2318.4C1688.02 2317.03 1692.27 2314.42 1696.1 2312.8C1699.93 2311.18 1703.35 2309.63 1707 2308.7C1710.65 2307.77 1714.23 2307.33 1718 2307.2C1721.77 2307.07 1725.77 2307.98 1729.6 2307.9C1733.43 2307.82 1737.28 2307.22 1741 2306.7C1744.72 2306.18 1748.27 2305.8 1751.9 2304.8C1755.53 2303.8 1759.08 2302.2 1762.8 2300.7C1766.52 2299.2 1770.55 2297.1 1774.2 2295.8C1777.85 2294.5 1781.13 2293.5 1784.7 2292.9C1788.27 2292.3 1792.05 2291.93 1795.6 2292.2C1799.15 2292.47 1802.37 2293.7 1806 2294.5C1809.63 2295.3 1813.55 2296.38 1817.4 2297C1821.25 2297.62 1825.25 2298 1829.1 2298.2C1832.95 2298.4 1836.78 2298.2 1840.5 2298.2C1844.22 2298.2 1847.65 2298.2 1851.4 2298.2C1855.15 2298.2 1859.17 2298.32 1863 2298.2C1866.83 2298.08 1870.68 2297.9 1874.4 2297.5C1878.12 2297.1 1881.45 2296.48 1885.3 2295.8C1889.15 2295.12 1893.65 2293.68 1897.5 2293.4C1901.35 2293.12 1904.77 2293.82 1908.4 2294.1C1912.03 2294.38 1915.67 2295.02 1919.3 2295.1C1922.93 2295.18 1926.48 2295.08 1930.2 2294.6C1933.92 2294.12 1937.75 2292.93 1941.6 2292.2C1945.45 2291.47 1949.45 2290.6 1953.3 2290.2C1957.15 2289.8 1961.25 2289.92 1964.7 2289.8C1968.15 2289.68 1972.45 2289.55 1974 2289.5" fill="none" stroke="#000" stroke-width="3.5" stroke-linejoin="round" stroke-linecap="round" stroke-dasharray="1 11.1"/>
<path d="M304.9 1737.5C305.43 1738.05 306.73 1739.08 308.1 1740.8C309.47 1742.52 310.97 1744.32 313.1 1747.8C315.23 1751.28 318.07 1756.05 320.9 1761.7C323.73 1767.35 327.02 1775.02 330.1 1781.7C333.18 1788.38 336.57 1795.62 339.4 1801.8C342.23 1807.98 344.53 1813.4 347.1 1818.8C349.67 1824.2 352.23 1829.18 354.8 1834.2C357.37 1839.22 360.18 1844.53 362.5 1848.9C364.82 1853.27 366.9 1856.93 368.7 1860.4C370.5 1863.87 371.75 1865.58 373.3 1869.7C374.85 1873.82 376.45 1879.7 378 1885.1C379.55 1890.5 380.8 1895.42 382.6 1902.1C384.4 1908.78 386.75 1917.73 388.8 1925.2C390.85 1932.67 392.85 1939.43 394.9 1946.9C396.95 1954.37 399.03 1962.3 401.1 1970C403.17 1977.7 405.23 1985.38 407.3 1993.1C409.37 2000.82 411.18 2008.32 413.5 2016.3C415.82 2024.28 418.63 2033.55 421.2 2041C423.77 2048.45 426.32 2053.97 428.9 2061C431.48 2068.03 433.23 2072.3 436.7 2083.2C440.17 2094.1 445.37 2112 449.7 2126.4C454.03 2140.8 458.73 2155.2 462.7 2169.6C466.67 2184 470.08 2199.12 473.5 2212.8C476.92 2226.48 480.15 2240.88 483.2 2251.7C486.25 2262.52 488.75 2268.33 491.8 2277.7C494.85 2287.07 498.08 2297.1 501.5 2307.9C504.92 2318.7 508.7 2331.7 512.3 2342.5C515.9 2353.3 519.13 2362.27 523.1 2372.7C527.07 2383.13 532.13 2395.02 536.1 2405.1C540.07 2415.18 543.65 2425.63 546.9 2433.2C550.15 2440.77 552.72 2445.82 555.6 2450.5C558.48 2455.18 561.33 2457.7 564.2 2461.3C567.07 2464.9 569.57 2467.42 572.8 2472.1C576.03 2476.78 579.97 2483.63 583.6 2489.4C587.23 2495.17 590.75 2501.8 594.6 2506.7C598.45 2511.6 602.27 2513.55 606.7 2518.8C611.13 2524.05 616.35 2531.73 621.2 2538.2C626.05 2544.67 630.95 2551.13 635.8 2557.6C640.65 2564.07 645.85 2570.93 650.3 2577C654.75 2583.07 658.65 2589.27 662.5 2594C666.35 2598.73 669.77 2602.68 673.4 2605.4C677.03 2608.12 680.05 2608.68 684.3 2610.3C688.55 2611.92 694.45 2613.48 698.9 2615.1C703.35 2616.72 706.57 2617.77 711 2620C715.43 2622.23 721.05 2625.15 725.5 2628.5C729.95 2631.85 733.65 2636.35 737.7 2640.1C741.75 2643.85 745.35 2647.97 749.8 2651C754.25 2654.03 759.55 2656 764.4 2658.3C769.25 2660.6 774.05 2662.17 778.9 2664.8C783.75 2667.43 789.05 2670.53 793.5 2674.1C797.95 2677.67 801.57 2682.17 805.6 2686.2C809.63 2690.23 813.25 2694.47 817.7 2698.3C822.15 2702.13 827.85 2706.08 832.3 2709.2C836.75 2712.32 840.97 2715.18 844.4 2717C847.83 2718.82 848.05 2719.58 852.9 2720.1C857.75 2720.62 868.45 2719.6 873.5 2720.1C878.55 2720.6 879.57 2722.2 883.2 2723.1C886.83 2724 891.67 2724.38 895.3 2725.5C898.93 2726.62 901.77 2728.27 905 2729.8C908.23 2731.33 911.05 2733.48 914.7 2734.7C918.35 2735.92 920.42 2736.7 926.9 2737.1C933.38 2737.5 944.03 2737.32 953.6 2737.1C963.17 2736.88 976.37 2736.98 984.3 2735.8C992.23 2734.62 995.55 2730.9 1001.2 2730C1006.85 2729.1 1012.93 2730 1018.2 2730.4C1023.47 2730.8 1027.53 2732.72 1032.8 2732.4C1038.07 2732.08 1045.35 2730.03 1049.8 2728.5C1054.25 2726.97 1055.87 2725.9 1059.5 2723.2C1063.13 2720.5 1067.57 2715.95 1071.6 2712.3C1075.63 2708.65 1079.25 2704.75 1083.7 2701.3C1088.15 2697.85 1092.63 2694.5 1098.3 2691.6C1103.97 2688.7 1112.05 2686.52 1117.7 2683.9C1123.35 2681.28 1127.35 2679.05 1132.2 2675.9C1137.05 2672.75 1141.13 2669.05 1146.8 2665C1152.47 2660.95 1160.55 2656.05 1166.2 2651.6C1171.85 2647.15 1175.45 2643.15 1180.7 2638.3C1185.95 2633.45 1191.63 2627.77 1197.7 2622.5C1203.77 2617.23 1211.03 2611.95 1217.1 2606.7C1223.17 2601.45 1228.43 2596.45 1234.1 2591C1239.77 2585.55 1245.03 2580.47 1251.1 2574C1257.17 2567.53 1264.03 2559.08 1270.5 2552.2C1276.97 2545.32 1283.83 2539.18 1289.9 2532.7C1295.97 2526.22 1302.83 2518.32 1306.9 2513.3C1310.97 2508.28 1309.03 2507.82 1314.3 2502.6C1319.57 2497.38 1330.42 2489.08 1338.5 2482C1346.58 2474.92 1354.72 2467.58 1362.8 2460.1C1370.88 2452.62 1378.92 2444.17 1387 2437.1C1395.08 2430.03 1403.22 2424.58 1411.3 2417.7C1419.38 2410.82 1428.23 2401.55 1435.5 2395.8C1442.77 2390.05 1448.42 2386.02 1454.9 2383.2C1461.38 2380.38 1467.92 2380.03 1474.4 2378.9C1480.88 2377.77 1488.55 2377.53 1493.8 2376.4C1499.05 2375.27 1501.87 2374.52 1505.9 2372.1C1509.93 2369.68 1514.37 2365.02 1518 2361.9C1521.63 2358.78 1524.07 2355.42 1527.7 2353.4C1531.33 2351.38 1534.53 2350.9 1539.8 2349.8C1545.07 2348.7 1552.82 2347.9 1559.3 2346.8C1565.78 2345.7 1573.45 2344.93 1578.7 2343.2C1583.95 2341.47 1586.77 2338.62 1590.8 2336.4C1594.83 2334.18 1598.45 2331.52 1602.9 2329.9C1607.35 2328.28 1611.83 2327.63 1617.5 2326.7C1623.17 2325.77 1630.83 2325.32 1636.9 2324.3C1642.97 2323.28 1648.65 2322.22 1653.9 2320.6C1659.15 2318.98 1663.38 2316.3 1668.4 2314.6C1673.42 2312.9 1678.97 2312.12 1684 2310.4C1689.03 2308.68 1690.52 2305.92 1698.6 2304.3C1706.68 2302.68 1723.22 2301.92 1732.5 2300.7C1741.78 2299.48 1748.23 2298.5 1754.3 2297C1760.37 2295.5 1763.63 2293.23 1768.9 2291.7C1774.17 2290.17 1779.03 2288.73 1785.9 2287.8C1792.77 2286.87 1802.02 2286.27 1810.1 2286.1C1818.18 2285.93 1827.12 2287 1834.4 2286.8C1841.68 2286.6 1846.52 2285.42 1853.8 2284.9C1861.08 2284.38 1870.82 2284.1 1878.1 2283.7C1885.38 2283.3 1891.45 2283.18 1897.5 2282.5C1903.55 2281.82 1907.53 2280.5 1914.4 2279.6C1921.27 2278.7 1931.82 2278.03 1938.7 2277.1C1945.58 2276.17 1949.97 2274.52 1955.7 2274C1961.43 2273.48 1970.2 2274 1973.1 2274" fill="none" stroke="#000" stroke-width="2.8" stroke-linejoin="round" stroke-linecap="butt"/>
</svg>
</body>
</html>
